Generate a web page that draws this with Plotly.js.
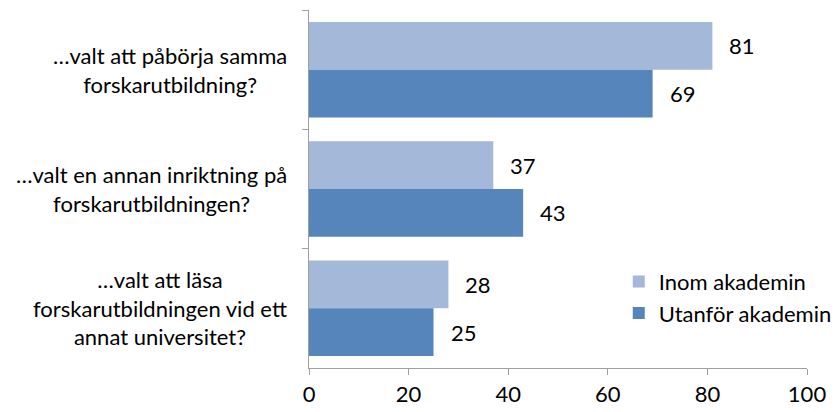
<!DOCTYPE html>
<html><head><meta charset="utf-8">
<script src="https://cdn.plot.ly/plotly-3.0.1.min.js"></script>
<style>body{margin:0;background:#fff}</style>
</head><body>
<div id="chart" style="width:838px;height:412px"></div>
<script>
const categories = ["q1", "q2", "q3"];
const categoryLabels = [
  "…valt att påbörja samma<br>forskarutbildning?",
  "…valt en annan inriktning på<br>forskarutbildningen?",
  "…valt att läsa<br>forskarutbildningen vid ett<br>annat universitet?"
];
const inom = [81, 37, 28];
const utanfor = [69, 43, 25];
const seriesNames = ["Inom akademin", "Utanför akademin"];

const fontFam = "Lato, 'Open Sans', sans-serif";
const FS = 22;
const traces = [
  {type: "bar", orientation: "h", name: seriesNames[0], y: categories, x: inom, legendgroup: "a",
   marker: {color: "#A4B8DA"}, textposition: "none", hoverinfo: "x"},
  {type: "bar", orientation: "h", name: seriesNames[1], y: categories, x: utanfor, legendgroup: "b",
   marker: {color: "#5585BA"}, textposition: "none", hoverinfo: "x"}
];

const annotations = [];
categories.forEach((c, i) => {
  annotations.push({xref: "paper", yref: "y", x: 0, y: c, xanchor: "right", xshift: -20,
    text: categoryLabels[i], showarrow: false, align: "center",
    font: {size: FS, color: "#000", family: fontFam}});
});
const offsets = [-0.2, 0.2];
[inom, utanfor].forEach((vals, s) => {
  vals.forEach((v, i) => {
    annotations.push({xref: "x", yref: "y", x: v, y: i + offsets[s], xanchor: "left", xshift: 15,
      text: String(v), showarrow: false, font: {size: FS, color: "#000", family: fontFam}});
  });
});

const layout = {
  width: 838, height: 412,
  margin: {l: 309, r: 31, t: 10, b: 44, autoexpand: false},
  paper_bgcolor: "#fff", plot_bgcolor: "#fff",
  barmode: "group", bargap: 0.2, bargroupgap: 0,
  font: {family: fontFam, size: FS, color: "#000"},
  xaxis: {range: [0, 100], dtick: 20, showgrid: false, zeroline: false, automargin: false,
    showline: true, linecolor: "#A0A0A0", linewidth: 1.3, ticks: "outside", ticklen: 6,
    tickcolor: "#A0A0A0", tickfont: {size: FS, family: fontFam, color: "#000"}, fixedrange: true},
  yaxis: {autorange: "reversed", showgrid: false, zeroline: false, showline: true, automargin: false,
    linecolor: "#A0A0A0", linewidth: 1.3, ticks: "outside", ticklen: 6, tickcolor: "#A0A0A0",
    tickson: "boundaries", showticklabels: false, fixedrange: true},
  showlegend: true,
  legend: {x: 0.622, y: 0.30, xanchor: "left", yanchor: "top", traceorder: "normal",
    font: {size: FS, family: fontFam, color: "#000"}, bgcolor: "rgba(0,0,0,0)",
    itemwidth: 30, tracegroupgap: 15},
  annotations: annotations
};
Plotly.newPlot("chart", traces, layout, {displayModeBar: false, staticPlot: true});
</script>
</body></html>
